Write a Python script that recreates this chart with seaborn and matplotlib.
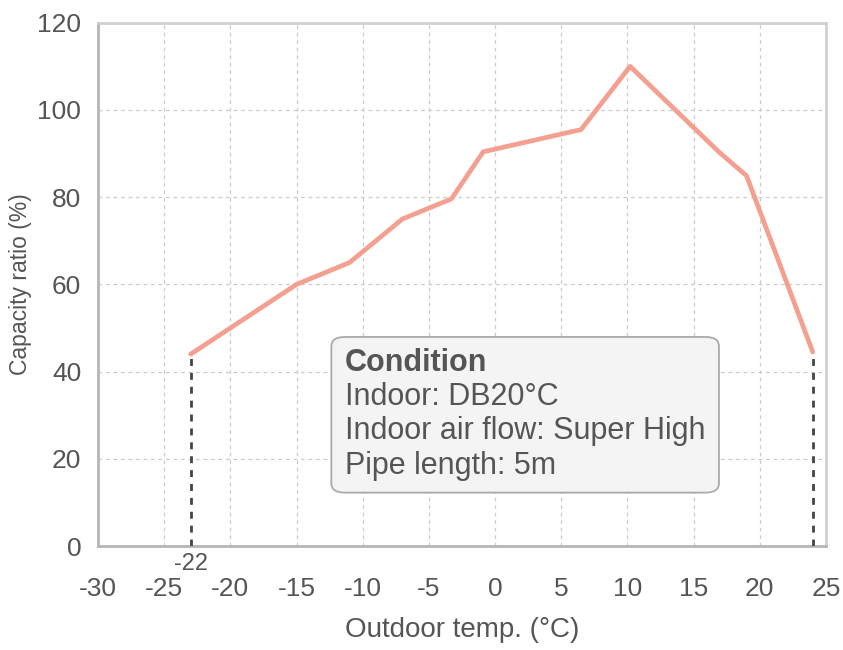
import matplotlib
matplotlib.use("Agg")
import matplotlib.pyplot as plt
import seaborn as sns
import pandas as pd
from matplotlib.patches import FancyBboxPatch

# Data
temps = [-23, -15, -11, -7, -3.3, -0.9, 6.5, 10.2, 16.9, 19.0, 24.0]
ratios = [44, 60, 65, 75, 79.6, 90.4, 95.5, 110, 90.4, 84.9, 44.5]
x_ticks = [-30, -25, -20, -15, -10, -5, 0, 5, 10, 15, 20, 25]
y_ticks = [0, 20, 40, 60, 80, 100, 120]
limit_label = "-22"
condition_title = "Condition"
condition_lines = ["Indoor: DB20°C", "Indoor air flow: Super High", "Pipe length: 5m"]

sns.set_theme(style="white")
plt.rcParams["font.family"] = ["Liberation Sans", "DejaVu Sans"]

TXT = "#555555"
fig = plt.figure(figsize=(8.43, 6.50), dpi=100)
ax = fig.add_axes([0.1163, 0.16, 0.8635, 0.805])

df = pd.DataFrame({"t": temps, "r": ratios})
sns.lineplot(data=df, x="t", y="r", ax=ax, color="#f4a090", linewidth=3.4,
             sort=False, zorder=3)

# vertical dashed limit lines at both ends
for xv, yv in [(temps[0], ratios[0]), (temps[-1], ratios[-1])]:
    ax.plot([xv, xv], [0, yv], color="#444444", linestyle=(0, (2.5, 2.5)),
            linewidth=2.0, zorder=4)

ax.set_xlim(x_ticks[0], x_ticks[-1])
ax.set_ylim(y_ticks[0], y_ticks[-1])
ax.set_xticks(x_ticks)
ax.set_yticks(y_ticks)
ax.set_xticklabels([str(v) for v in x_ticks])
ax.set_yticklabels([str(v) for v in y_ticks])
ax.tick_params(axis="x", length=0, pad=22, labelsize=19, labelcolor=TXT)
ax.tick_params(axis="y", length=0, pad=12, labelsize=19, labelcolor=TXT)

ax.grid(True, color="#cccccc", linestyle=(0, (3, 3)), linewidth=0.9)
ax.set_axisbelow(True)

for side in ["top", "right"]:
    ax.spines[side].set_color("#d0d0d0")
    ax.spines[side].set_linewidth(2)
for side in ["left", "bottom"]:
    ax.spines[side].set_color("#b5b5b5")
    ax.spines[side].set_linewidth(2)

ax.set_xlabel("Outdoor temp. (°C)", fontsize=20, color=TXT, labelpad=12)
ax.set_ylabel("Capacity ratio (%)", fontsize=16.5, color=TXT, va="center")
ax.yaxis.set_label_coords(-0.107, 0.5)

# "-22" label under first point
ax.annotate(limit_label, xy=(temps[0], 0), xycoords="data",
            xytext=(0, -5), textcoords="offset points",
            ha="center", va="top", fontsize=17, color=TXT,
            annotation_clip=False)

# condition box
box = FancyBboxPatch((0.3205, 0.1020), 0.5325, 0.2975,
                     boxstyle="round,pad=0,rounding_size=0.018",
                     transform=ax.transAxes, facecolor="#f4f4f4",
                     edgecolor="#aaaaaa", linewidth=1.3, zorder=5)
ax.add_patch(box)
ax.text(0.339, 0.350, condition_title, transform=ax.transAxes, fontsize=22,
        fontweight="bold", color=TXT, va="center", ha="left", zorder=6)
for i, line in enumerate(condition_lines):
    ax.text(0.339, 0.350 - 0.0655 * (i + 1), line, transform=ax.transAxes,
            fontsize=22, color=TXT, va="center", ha="left", zorder=6)

fig.savefig("out.png", dpi=100)
